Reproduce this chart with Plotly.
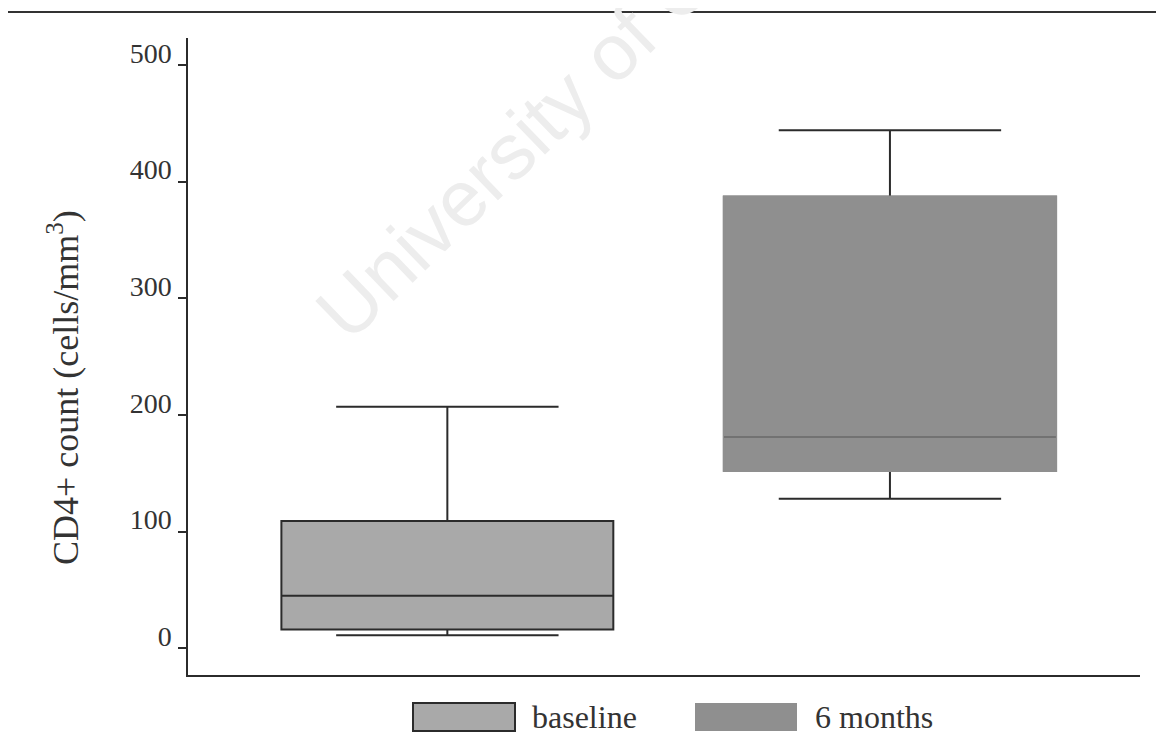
import plotly.graph_objects as go

# ---- data ----
groups = ["baseline", "6 months"]
x_pos = [0, 1]
q1 = [16, 152]
median = [45, 181]
q3 = [109, 387]
lower_whisker = [11, 128]
upper_whisker = [207, 444]
fill_colors = ["#a9a9a9", "#8f8f8f"]
y_ticks = [0, 100, 200, 300, 400, 500]

# page has an 8px body margin; figure coords = page coords - 8
OFF = 8
W, H = 1164 - 2 * OFF, 754 - 2 * OFF
L, T = 188 - OFF, 38 - OFF
R = W - (1140 - OFF)
B = H - (675 - OFF)
PW, PH = W - L - R, H - T - B

def px_x(p):  # page pixel -> paper x
    return (p - OFF - L) / PW

def px_y(p):  # page pixel -> paper y
    return (H - B - (p - OFF)) / PH

FONT = "Liberation Serif, Times New Roman, serif"
DARK = "#2b2b2b"
TXT = "#333333"

fig = go.Figure()

box_common = dict(width=0.75, showlegend=False, hoverinfo="y")

# baseline box
fig.add_trace(go.Box(
    x=[x_pos[0]], q1=[q1[0]], median=[median[0]], q3=[q3[0]],
    lowerfence=[lower_whisker[0]], upperfence=[upper_whisker[0]],
    whiskerwidth=0.67, fillcolor=fill_colors[0],
    line=dict(color=DARK, width=2), name=groups[0], **box_common,
))
# 6 months: whiskers (dark)
fig.add_trace(go.Box(
    x=[x_pos[1]], q1=[q1[1]], median=[median[1]], q3=[q3[1]],
    lowerfence=[lower_whisker[1]], upperfence=[upper_whisker[1]],
    whiskerwidth=0.67, fillcolor=fill_colors[1],
    line=dict(color=DARK, width=2), name=groups[1], **box_common,
))
# 6 months: box body without a dark outline
fig.add_trace(go.Box(
    x=[x_pos[1]], q1=[q1[1]], median=[median[1]], q3=[q3[1]],
    lowerfence=[q1[1]], upperfence=[q3[1]],
    whiskerwidth=0, fillcolor=fill_colors[1],
    line=dict(color=fill_colors[1], width=2.5), name=groups[1], **box_common,
))
# 6 months: median line
fig.add_trace(go.Box(
    x=[x_pos[1]], q1=[median[1]], median=[median[1]], q3=[median[1]],
    lowerfence=[median[1]], upperfence=[median[1]],
    whiskerwidth=0, fillcolor=fill_colors[1],
    line=dict(color="#6a6a6a", width=1.5), name=groups[1], **box_common,
))

fig.update_layout(
    width=W, height=H,
    margin=dict(l=L, r=R, t=T, b=B, autoexpand=False),
    paper_bgcolor="white", plot_bgcolor="white",
    font=dict(family=FONT, color=TXT),
    boxmode="overlay",
    xaxis=dict(range=[-0.586, 1.565], showticklabels=False, ticks="",
               showgrid=False, zeroline=False, showline=True,
               linecolor=DARK, linewidth=1.5),
    yaxis=dict(range=[-23, 523], tickvals=y_ticks, ticks="outside", ticklen=8,
               tickcolor=DARK, tickwidth=1.5, showgrid=False, zeroline=False,
               showline=True, linecolor=DARK, linewidth=1.5,
               tickfont=dict(size=28, family=FONT, color=TXT),
               ticklabelstandoff=1, ticklabelshift=-12),
)

shapes = []
# top rule across the page
shapes.append(dict(type="line", xref="paper", yref="paper",
                   x0=px_x(OFF), x1=px_x(1164 - OFF), y0=px_y(12), y1=px_y(12),
                   line=dict(color="#333333", width=2)))
annotations = []
# faint watermark
annotations.append(dict(text="University of Cape Town", xref="paper", yref="paper",
                        x=px_x(635), y=px_y(29), textangle=-44, showarrow=False,
                        xanchor="center", yanchor="middle",
                        font=dict(size=79, family="Liberation Sans, Arial, sans-serif",
                                  color="#ededed")))
# y axis title
annotations.append(dict(text="CD4+ count (cells/mm<sup>3</sup>)", xref="paper", yref="paper",
                        x=px_x(64), y=px_y(387), textangle=-90, showarrow=False,
                        xanchor="center", yanchor="middle",
                        font=dict(size=36, family=FONT, color=TXT)))
# custom legend
legend_items = [(413, 515, 530, DARK, 2), (695, 797, 813, fill_colors[1], 0)]
for (x0, x1, tx, lc, lw), name, fc in zip(legend_items, groups, fill_colors):
    shapes.append(dict(type="rect", xref="paper", yref="paper",
                       x0=px_x(x0), x1=px_x(x1), y0=px_y(731), y1=px_y(703),
                       fillcolor=fc, line=dict(color=lc, width=lw)))
    annotations.append(dict(text=name, xref="paper", yref="paper",
                            x=px_x(tx), y=px_y(717), xanchor="left", yanchor="middle",
                            showarrow=False,
                            font=dict(size=32, family=FONT, color=TXT)))

fig.update_layout(shapes=shapes, annotations=annotations)

fig.write_html("out.html")
